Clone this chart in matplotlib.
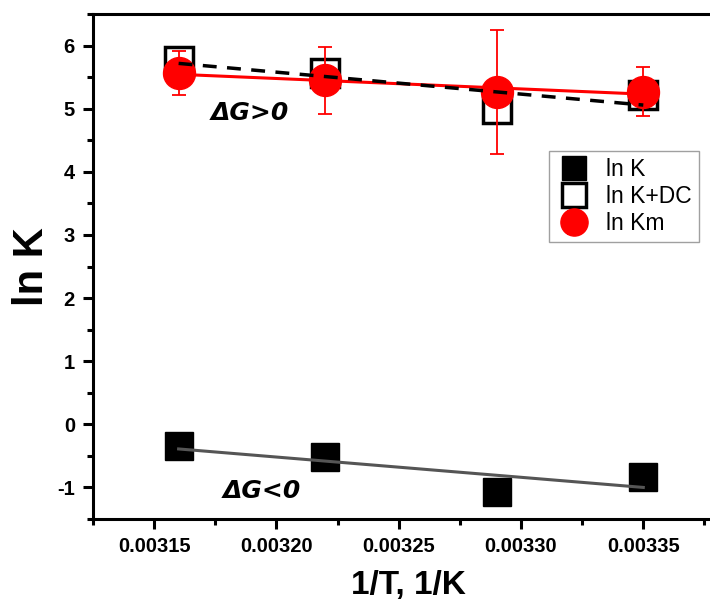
import matplotlib
matplotlib.use('Agg')
import numpy as np
import matplotlib.pyplot as plt
from matplotlib.ticker import MultipleLocator

plt.rcParams['font.family'] = ['Liberation Sans', 'DejaVu Sans']
plt.rcParams['axes.unicode_minus'] = False

# 数据
inv_T = [0.00316, 0.00322, 0.00329, 0.00335]
ln_K = [-0.35, -0.52, -1.07, -0.84]
ln_K_DC = [5.76, 5.57, 5.00, 5.22]
ln_Km = [5.56, 5.45, 5.27, 5.27]
ln_Km_err = [0.35, 0.53, 0.98, 0.39]

fig = plt.figure(figsize=(7.10, 6.03), dpi=100)
ax = fig.add_axes([93 / 710, 1 - 519 / 603, (724 - 93) / 710, (519 - 14) / 603])

x = np.array(inv_T)
xf = np.array([x.min(), x.max()])

# 散点
ax.plot(x, ln_K, 's', color='black', markersize=20, zorder=3, label='ln K')
ax.plot(x, ln_K_DC, 's', color='black', markerfacecolor='white', markeredgewidth=2.5,
        markersize=20, zorder=2, label='ln K+DC')
ax.errorbar(x, ln_Km, yerr=ln_Km_err, fmt='o', color='red', ecolor='red',
            markersize=23, elinewidth=1.3, capsize=5, capthick=1.3, zorder=4, label='ln Km')

# 线性拟合
p = np.polyfit(x, ln_K, 1)
ax.plot(xf, np.polyval(p, xf), color='#555555', lw=2.2, zorder=4)
p = np.polyfit(x, ln_Km, 1)
ax.plot(xf, np.polyval(p, xf), color='red', lw=2.2, zorder=5)
p = np.polyfit(x, ln_K_DC, 1)
ax.plot(xf, np.polyval(p, xf), color='black', lw=2.5, ls=(0, (4, 3)), zorder=6)

ax.text(0.003189, 4.93, 'ΔG>0', fontsize=18, fontweight='bold', style='italic',
        family='DejaVu Sans', ha='center', va='center')
ax.text(0.003194, -1.06, 'ΔG<0', fontsize=18, fontweight='bold', style='italic',
        family='DejaVu Sans', ha='center', va='center')

ax.set_xlim(0.003125, 0.003383)
ax.set_ylim(-1.5, 6.5)
ax.set_xticks([0.00315, 0.00320, 0.00325, 0.00330, 0.00335])
ax.set_xticklabels(['0.00315', '0.00320', '0.00325', '0.00330', '0.00335'])
ax.xaxis.set_minor_locator(MultipleLocator(0.000025))
ax.set_yticks([-1, 0, 1, 2, 3, 4, 5, 6])
ax.yaxis.set_minor_locator(MultipleLocator(0.5))

for s in ax.spines.values():
    s.set_linewidth(2.2)
ax.tick_params(which='major', length=7, width=2.2, labelsize=14.5, pad=6)
ax.tick_params(which='minor', length=4, width=2.2)
for lab in ax.get_xticklabels() + ax.get_yticklabels():
    lab.set_fontweight('bold')

ax.set_xlabel('1/T, 1/K', fontsize=24, fontweight='bold', labelpad=10)
ax.set_ylabel('ln K', fontsize=30, fontweight='bold', labelpad=4)

leg = ax.legend(loc='upper left', bbox_to_anchor=((549 - 93) / 631, 1 - (151 - 14) / 505),
                fontsize=16.5, markerscale=0.85, frameon=True, fancybox=False,
                edgecolor='#888888', handletextpad=0.6, labelspacing=0.18,
                borderpad=0.3, handlelength=1.6, borderaxespad=0)
leg.get_frame().set_linewidth(1.0)

fig.savefig('out.png', dpi=100)
